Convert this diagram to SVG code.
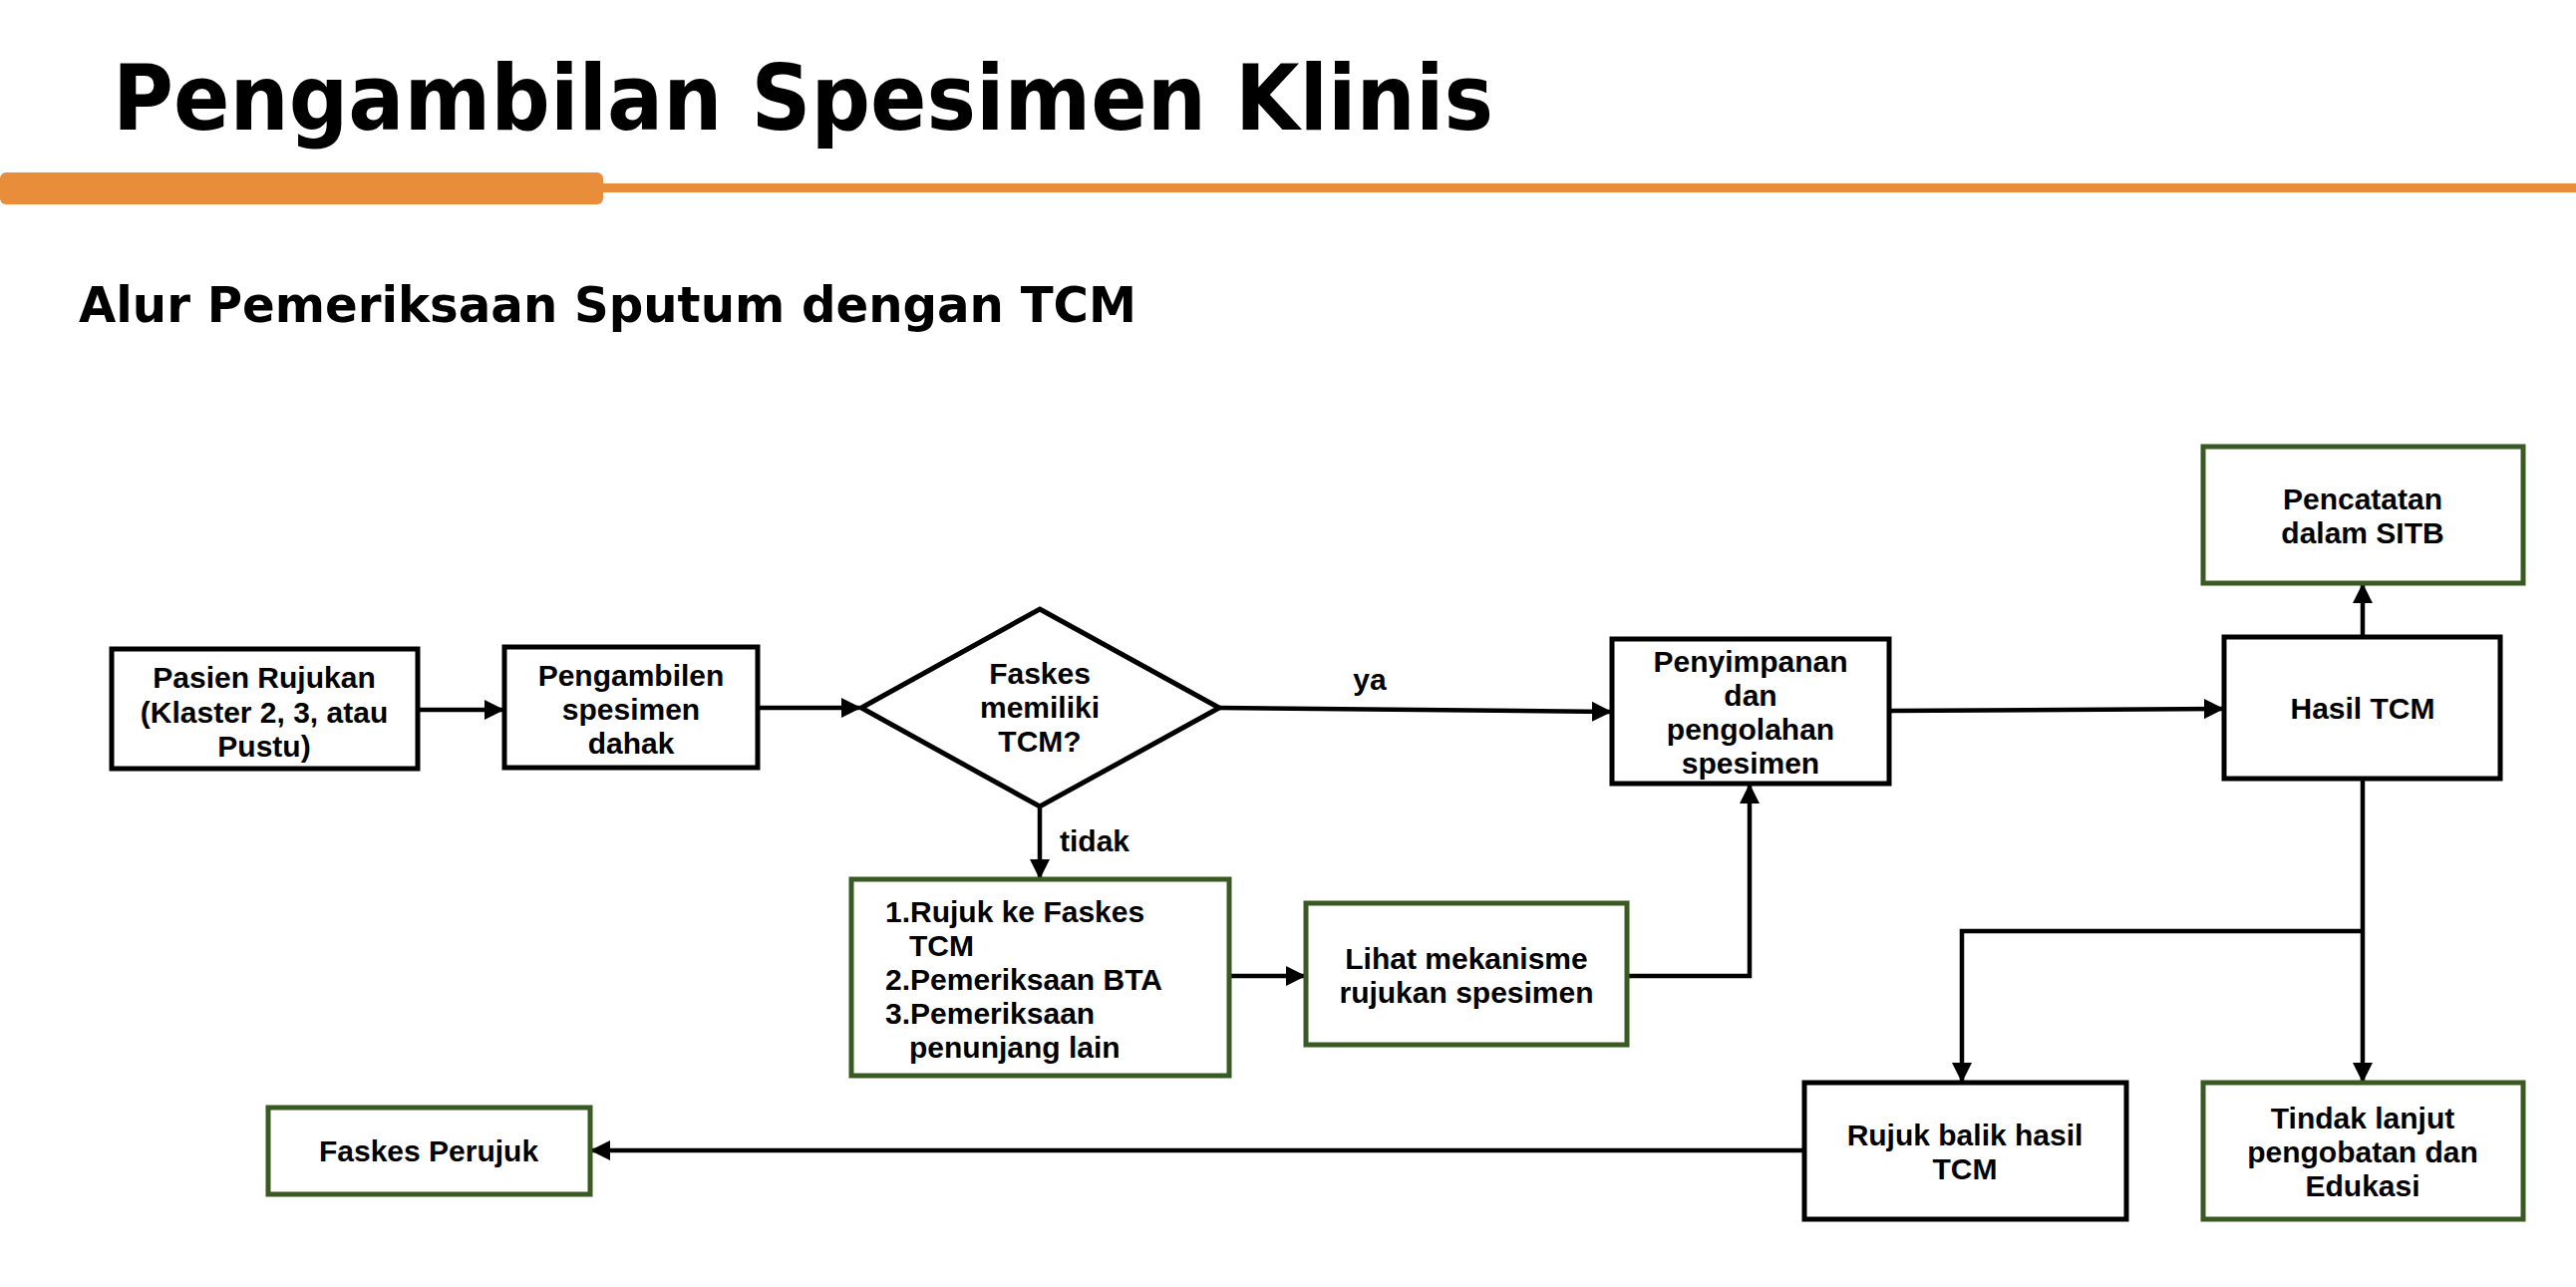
<svg xmlns="http://www.w3.org/2000/svg" width="2584" height="1291" viewBox="0 0 2584 1291">
<defs>
<marker id="ah" viewBox="0 0 10 10" refX="9" refY="5" markerWidth="4.5" markerHeight="4.5" orient="auto-start-reverse"><path d="M0,0 L10,5 L0,10 z" fill="#000"/></marker>
<style>
.b{fill:#fff;stroke:#000;stroke-width:5}
.g{fill:#fff;stroke:#3A5A24;stroke-width:5}
.t{font-family:"Liberation Sans",Arial,sans-serif;font-weight:bold;font-size:30px;fill:#000;text-anchor:middle}
.c{fill:none;stroke:#000;stroke-width:4.5;marker-end:url(#ah)}
</style>
</defs>
<rect width="2584" height="1291" fill="#fff"/>
<text x="113" y="130" font-family="'DejaVu Sans','Liberation Sans',sans-serif" font-weight="bold" font-size="90" textLength="1385" lengthAdjust="spacingAndGlyphs">Pengambilan Spesimen Klinis</text>
<rect x="0" y="173" width="605" height="32" rx="6" fill="#E88D3A"/>
<rect x="600" y="184" width="1984" height="9" fill="#E88D3A"/>
<text x="79" y="323" font-family="'DejaVu Sans','Liberation Sans',sans-serif" font-weight="bold" font-size="50" textLength="1061" lengthAdjust="spacingAndGlyphs">Alur Pemeriksaan Sputum dengan TCM</text>
<g id="connectors">
<line class="c" x1="419" y1="712" x2="504" y2="712"/>
<line class="c" x1="760" y1="710" x2="862" y2="710"/>
<line class="c" x1="1223" y1="710" x2="1615" y2="714"/>
<line class="c" x1="1043" y1="809" x2="1043" y2="880"/>
<line class="c" x1="1233" y1="979" x2="1308" y2="979"/>
<polyline class="c" points="1632,979 1755,979 1755,788"/>
<line class="c" x1="1895" y1="713" x2="2229" y2="711"/>
<line class="c" x1="2370" y1="639" x2="2370" y2="587"/>
<line class="c" x1="2370" y1="781" x2="2370" y2="1084"/>
<polyline class="c" points="2370,934 1968,934 1968,1084"/>
<line class="c" x1="1810" y1="1154" x2="594" y2="1154"/>
<text class="t" x="1374" y="692">ya</text>
<text class="t" x="1098" y="854">tidak</text>
</g>
<g id="pasien"><rect class="b" x="112" y="651" width="307" height="120"/><text class="t" x="265" y="690">Pasien Rujukan</text><text class="t" x="265" y="725">(Klaster 2, 3, atau</text><text class="t" x="265" y="759">Pustu)</text></g>
<g id="pengambilen"><rect class="b" x="506" y="649" width="254" height="121"/><text class="t" x="633" y="688">Pengambilen</text><text class="t" x="633" y="722">spesimen</text><text class="t" x="633" y="756">dahak</text></g>
<g id="faskes"><polygon class="b" points="1043,611 1223,710 1043,809 864,710"/><text class="t" x="1043" y="686">Faskes</text><text class="t" x="1043" y="720">memiliki</text><text class="t" x="1043" y="754">TCM?</text></g>
<g id="penyimpanan"><rect class="b" x="1617" y="641" width="278" height="145"/><text class="t" x="1756" y="674">Penyimpanan</text><text class="t" x="1756" y="708">dan</text><text class="t" x="1756" y="742">pengolahan</text><text class="t" x="1756" y="776">spesimen</text></g>
<g id="hasil"><rect class="b" x="2231" y="639" width="277" height="142"/><text class="t" x="2370" y="721">Hasil TCM</text></g>
<g id="pencatatan"><rect class="g" x="2210" y="448" width="321" height="137"/><text class="t" x="2370" y="511">Pencatatan</text><text class="t" x="2370" y="545">dalam SITB</text></g>
<g id="daftar"><rect class="g" x="854" y="882" width="379" height="197"/>
<text class="t" style="text-anchor:start" x="888" y="925">1.Rujuk ke Faskes</text><text class="t" style="text-anchor:start" x="912" y="959">TCM</text><text class="t" style="text-anchor:start" x="888" y="993">2.Pemeriksaan BTA</text><text class="t" style="text-anchor:start" x="888" y="1027">3.Pemeriksaan</text><text class="t" style="text-anchor:start" x="912" y="1061">penunjang lain</text></g>
<g id="lihat"><rect class="g" x="1310" y="906" width="322" height="142"/><text class="t" x="1471" y="972">Lihat mekanisme</text><text class="t" x="1471" y="1006">rujukan spesimen</text></g>
<g id="rujukbalik"><rect class="b" x="1810" y="1086" width="323" height="137"/><text class="t" x="1971" y="1149">Rujuk balik hasil</text><text class="t" x="1971" y="1183">TCM</text></g>
<g id="tindak"><rect class="g" x="2210" y="1086" width="321" height="137"/><text class="t" x="2370" y="1132">Tindak lanjut</text><text class="t" x="2370" y="1166">pengobatan dan</text><text class="t" x="2370" y="1200">Edukasi</text></g>
<g id="perujuk"><rect class="g" x="269" y="1111" width="323" height="87"/><text class="t" x="430" y="1165">Faskes Perujuk</text></g>
</svg>
